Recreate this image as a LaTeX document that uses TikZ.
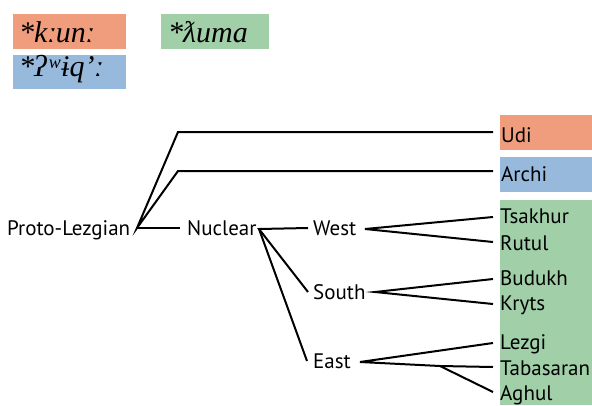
\documentclass[tikz,border=0pt]{standalone}
\usepackage{fontspec}
\newfontfamily\labelfont{PT Sans}
\newfontfamily\ipafont{Liberation Serif}
\definecolor{salmon}{HTML}{F09D7E}
\definecolor{sage}{HTML}{A0CFA8}
\definecolor{sky}{HTML}{97B9DC}
\tikzset{
  lbl/.style={anchor=base west, inner sep=0pt, font=\labelfont\fontsize{21}{24}\selectfont},
  ipa/.style={anchor=base west, inner sep=0pt, font=\ipafont\itshape\fontsize{30}{34}\selectfont},
  branch/.style={line width=2pt, line join=miter},
}
\begin{document}
\begin{tikzpicture}[x=1pt,y=-1pt]
\useasboundingbox (0,0) rectangle (592,405);
% reconstructed forms
\fill[salmon] (13,14) rectangle (126,49);
\fill[sky] (13,55) rectangle (126,89);
\fill[sage] (161,14) rectangle (269,49);
\node[ipa] (kun) at (19,42) {*kːunː};
\node[ipa] (iq) at (19,76) {*ʔ\kern1ptʷ\kern2ptɨqʼː};
\node[ipa] (uma) at (168,42) {*ƛuma};
% language bands
\fill[salmon] (500,115) rectangle (592,150);
\fill[sky] (500,157) rectangle (592,192);
\fill[sage] (500,200) rectangle (592,405);
% tree labels
\node[lbl] (proto) at (7,235) {Proto-Lezgian};
\node[lbl] (nuclear) at (187,235) {Nuclear};
\node[lbl] (west) at (313,235) {West};
\node[lbl] (south) at (313,299) {South};
\node[lbl] (east) at (313,368) {East};
\node[lbl] (udi) at (501,142) {Udi};
\node[lbl] (archi) at (501,181) {Archi};
\node[lbl] (tsakhur) at (500,223) {Tsakhur};
\node[lbl] (rutul) at (500,250) {Rutul};
\node[lbl] (budukh) at (500,285) {Budukh};
\node[lbl] (kryts) at (500,310) {Kryts};
\node[lbl] (lezgi) at (500,349) {Lezgi};
\node[lbl] (tabasaran) at (500,375) {Tabasaran};
\node[lbl] (aghul) at (500,400) {Aghul};
% junction points
\coordinate (root) at (137,228);
\coordinate (udibend) at (178,132);
\coordinate (archibend) at (178,171);
\coordinate (nucin) at (180,228);
\coordinate (nucout) at (259,229);
\coordinate (westin) at (308,228);
\coordinate (southin) at (308,292);
\coordinate (eastin) at (307,361);
\coordinate (westout) at (365,229);
\coordinate (southout) at (375,292);
\coordinate (eastout) at (360,362);
\coordinate (eastfork) at (440,366);
\coordinate (udiend) at (493,132);
\coordinate (archiend) at (493,171);
\coordinate (tsakhurend) at (493,217);
\coordinate (rutulend) at (493,242);
\coordinate (budukhend) at (493,279);
\coordinate (krytsend) at (493,304);
\coordinate (lezgiend) at (493,343);
\coordinate (tabasaranend) at (493,367);
\coordinate (aghulend) at (493,392);
% branches
\draw[branch] (udiend) -- (udibend) -- (root) -- (archibend) -- (archiend);
\draw[branch] (root) -- (nucin);
\draw[branch] (westin) -- (nucout) -- (southin);
\draw[branch] (nucout) -- (eastin);
\draw[branch] (tsakhurend) -- (westout) -- (rutulend);
\draw[branch] (budukhend) -- (southout) -- (krytsend);
\draw[branch] (lezgiend) -- (eastout) -- (eastfork) -- (tabasaranend);
\draw[branch] (eastfork) -- (aghulend);
\end{tikzpicture}
\end{document}
